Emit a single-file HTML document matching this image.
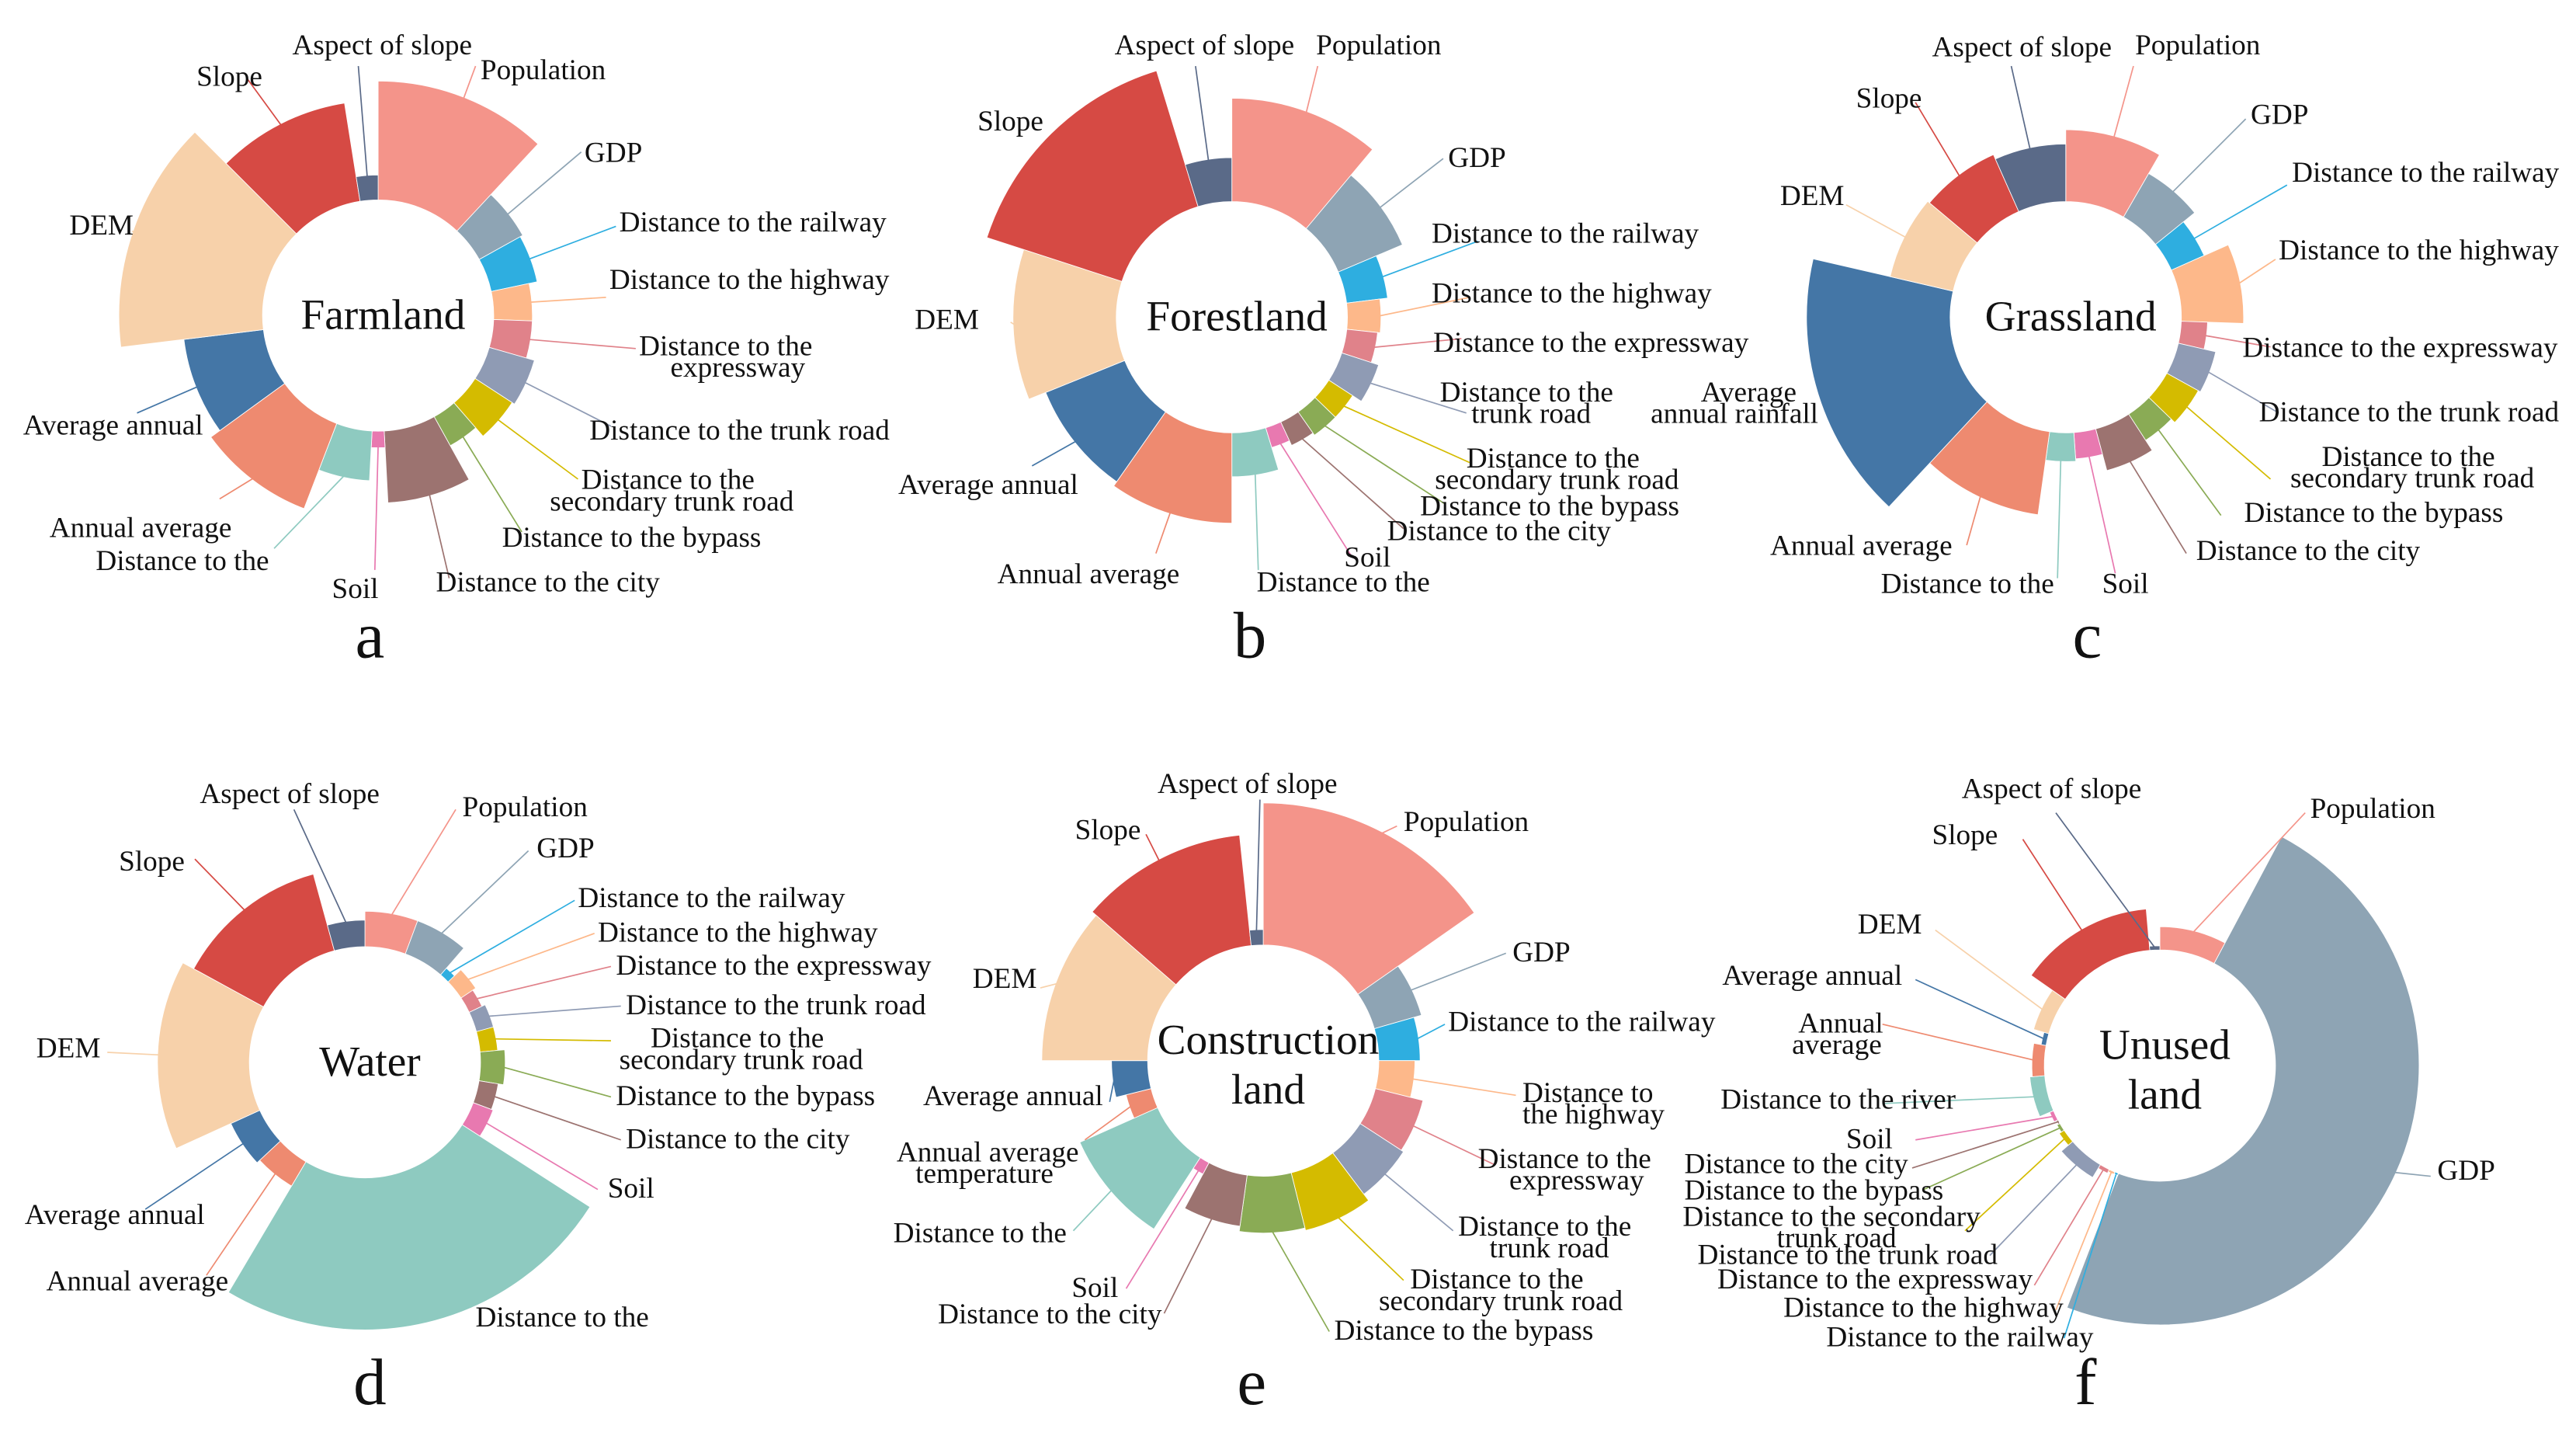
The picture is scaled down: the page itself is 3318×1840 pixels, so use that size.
<!DOCTYPE html>
<html><head><meta charset="utf-8"><title>Rose charts of land-use driving factors</title>
<style>
html,body{margin:0;padding:0;background:#fff;}
svg{display:block;}
text{font-family:"Liberation Serif","Times New Roman",serif;fill:#111;}
</style></head>
<body>
<svg id="fig" xmlns="http://www.w3.org/2000/svg" width="3318" height="1840" viewBox="0 0 1560 865" preserveAspectRatio="none" font-family="Liberation Serif, serif">
<rect x="0" y="0" width="1560" height="865" fill="#fff"/>
</svg>
<script>
const categories = ["Population","GDP","Distance to the railway","Distance to the highway","Distance to the expressway","Distance to the trunk road","Distance to the secondary trunk road","Distance to the bypass","Distance to the city","Soil","Distance to the river","Annual average temperature","Average annual rainfall","DEM","Slope","Aspect of slope"];
const colors = ["#f4948a","#8ea4b4","#2eaee0","#fdb88a","#e0828a","#8f9bb4","#d4bb00","#8aab55","#9c7370","#e879b0","#8ecac0","#ee8a70","#4476a6","#f7d1aa","#d64a44","#5a6a88"];
const farmlandValues = [43,18,17,14,14,17,16,12,26,6,18,33,29,52,36,9];
const forestlandValues = [40,27,16,13,12,15,11,11,10,8,17,35,33,40,55,17];
const grasslandValues = [30,21,15,26,11,16,15,13,18,11,12,35,60,27,26,24];
const waterValues = [20,20,5,10,8,10,10,14,11,12,86,16,18,52,45,15];
const constructionValues = [55,19,16,14,19,20,23,22,20,5,33,10,14,41,43,6];
const unusedValues = [28,173,2,3,5,18,7,4,2,5,18,15,6,19,50,5];

const NS="http://www.w3.org/2000/svg";
const FONT='"Liberation Serif","Times New Roman",serif';
const svg=document.getElementById('fig');
function mk(tag,attrs,parent){const e=document.createElementNS(NS,tag);for(const k in attrs)e.setAttribute(k,attrs[k]);(parent||svg).appendChild(e);return e;}
function pt(cx,cy,r,deg){const a=deg*Math.PI/180;return [cx+r*Math.sin(a),cy-r*Math.cos(a)];}

const charts=[
 {name:'farmland',values:farmlandValues,cx:229,cy:191,r0:70,rMax:157,title:['Farmland'],letter:'a',lx:224,ly:398,
  labels:[[15,'Aspect of slope',177,33,'start',217,40],[0,'Population',291,48,'start',288,40],[13,'DEM',42,142,'start',80,140],[14,'Slope',119,52,'start',150,48],
  [1,'GDP',354,98,'start',352,92],[2,'Distance to the railway',375,140,'start',373,137],[3,'Distance to the highway',369,175,'start',367,180],
  [4,'Distance to the|expressway',387,215,'start',385,211],[5,'Distance to the trunk road',357,266,'start',370,258],[6,'Distance to the|secondary trunk road',352,296,'start',350,290],
  [7,'Distance to the bypass',304,331,'start',316,322],[8,'Distance to the city',264,358,'start',272,350],[9,'Soil',201,362,'start',227,345],
  [10,'Distance to the',58,345,'start',166,332],[11,'Annual average',30,325,'start',133,302],[12,'Average annual',14,263,'start',83,250]]},
 {name:'forestland',values:forestlandValues,cx:746,cy:192,r0:70,rMax:156,title:['Forestland'],letter:'b',lx:757,ly:398,
  labels:[[15,'Aspect of slope',675,33,'start',724,40],[0,'Population',797,33,'start',798,40],[14,'Slope',592,79,'start',null,null],[1,'GDP',877,101,'start',874,96],
  [2,'Distance to the railway',867,147,'start',895,146],[3,'Distance to the highway',867,183,'start',890,180],[4,'Distance to the expressway',868,213,'start',885,205],
  [5,'Distance to the|trunk road',872,243,'start',888,250],[6,'Distance to the|secondary trunk road',888,283,'start',890,280],[7,'Distance to the bypass',860,312,'start',875,305],
  [8,'Distance to the city',840,327,'start',850,320],[9,'Soil',814,343,'start',818,336],[10,'Distance to the',761,358,'start',762,345],
  [11,'Annual average',604,353,'start',700,335],[12,'Average annual',544,299,'start',625,282],[13,'DEM',554,199,'start',612,195]]},
 {name:'grassland',values:grasslandValues,cx:1251,cy:192,r0:70,rMax:157,title:['Grassland'],letter:'c',lx:1264,ly:398,
  labels:[[15,'Aspect of slope',1170,34,'start',1218,40],[0,'Population',1293,33,'start',1292,40],[14,'Slope',1124,65,'start',1160,62],[1,'GDP',1363,75,'start',1360,72],
  [2,'Distance to the railway',1388,110,'start',1385,112],[3,'Distance to the highway',1380,157,'start',1378,157],[4,'Distance to the expressway',1358,216,'start',1375,210],
  [5,'Distance to the trunk road',1368,255,'start',1380,250],[6,'Distance to the|secondary trunk road',1406,282,'start',1375,290],[7,'Distance to the bypass',1359,316,'start',1345,312],
  [8,'Distance to the city',1330,339,'start',1324,335],[9,'Soil',1273,359,'start',1281,347],[10,'Distance to the',1139,359,'start',1246,350],
  [11,'Annual average',1072,336,'start',1191,330],[12,'Average|annual rainfall',1030,243,'start',1112,248],[13,'DEM',1078,124,'start',1118,124]]},
 {name:'water',values:waterValues,cx:221,cy:643,r0:70,rMax:162,title:['Water'],letter:'d',lx:224,ly:850,
  labels:[[15,'Aspect of slope',121,486,'start',178,490],[0,'Population',280,494,'start',276,490],[14,'Slope',72,527,'start',118,520],[1,'GDP',325,519,'start',320,515],
  [2,'Distance to the railway',350,549,'start',348,545],[3,'Distance to the highway',362,570,'start',360,565],[4,'Distance to the expressway',373,590,'start',370,585],
  [5,'Distance to the trunk road',379,614,'start',376,609],[6,'Distance to the|secondary trunk road',394,634,'start',370,630],[7,'Distance to the bypass',373,669,'start',370,664],
  [8,'Distance to the city',379,695,'start',376,690],[9,'Soil',368,725,'start',362,720],[10,'Distance to the',288,803,'start',265,797],
  [11,'Annual average',28,781,'start',125,772],[12,'Average annual',15,741,'start',88,732],[13,'DEM',22,640,'start',65,637]]},
 {name:'construction-land',values:constructionValues,cx:765,cy:642,r0:70,rMax:156,title:['Construction','land'],letter:'e',lx:758,ly:850,
  labels:[[15,'Aspect of slope',701,480,'start',763,484],[0,'Population',850,503,'start',846,500],[14,'Slope',651,508,'start',694,505],[1,'GDP',916,582,'start',912,577],
  [2,'Distance to the railway',877,624,'start',875,620],[3,'Distance to|the highway',922,667,'start',918,663],[4,'Distance to the|expressway',895,707,'start',905,705],
  [5,'Distance to the|trunk road',883,748,'start',880,745],[6,'Distance to the|secondary trunk road',854,780,'start',850,775],[7,'Distance to the bypass',808,811,'start',805,806],
  [8,'Distance to the city',568,801,'start',705,795],[9,'Soil',649,785,'start',682,780],[10,'Distance to the',541,752,'start',650,745],
  [11,'Annual average|temperature',543,703,'start',657,690],[12,'Average annual',559,669,'start',672,667],[13,'DEM',589,598,'start',630,598]]},
 {name:'unused-land',values:unusedValues,cx:1308,cy:645,r0:70,rMax:157,title:['Unused','land'],letter:'f',lx:1263,ly:850,
  labels:[[15,'Aspect of slope',1188,483,'start',1245,492],[0,'Population',1399,495,'start',1396,492],[14,'Slope',1170,511,'start',1225,508],[13,'DEM',1125,565,'start',1172,563],
  [12,'Average annual',1043,596,'start',1160,593],[11,'Annual|average',1089,625,'start',1140,620],[1,'GDP',1476,714,'start',1472,712],[10,'Distance to the river',1042,671,'start',1140,668],
  [9,'Soil',1118,695,'start',1160,690],[8,'Distance to the city',1020,710,'start',1158,707],[7,'Distance to the bypass',1020,726,'start',1165,720],
  [6,'Distance to the secondary|trunk road',1019,742,'start',1190,745],[5,'Distance to the trunk road',1028,765,'start',1205,760],[4,'Distance to the expressway',1040,780,'start',1232,778],
  [3,'Distance to the highway',1080,797,'start',1245,793],[2,'Distance to the railway',1106,815,'start',1250,810]]}
];

charts.forEach(ch=>{
  const g=mk('g',{});
  
  
  const total=ch.values.reduce((a,b)=>a+b,0);
  const vmax=Math.max(...ch.values);
  const rScale=v=>ch.r0+(ch.rMax-ch.r0)*v/vmax;
  let start=0; const mids=[],outs=[];
  ch.values.forEach((v,i)=>{
    const sweep=v/total*360, end=start+sweep, r=rScale(v);
    const a=pt(ch.cx,ch.cy,ch.r0,start), b=pt(ch.cx,ch.cy,r,start), c=pt(ch.cx,ch.cy,r,end), d=pt(ch.cx,ch.cy,ch.r0,end);
    const large=sweep>180?1:0;
    const p=mk('path',{d:`M${a[0]},${a[1]} L${b[0]},${b[1]} A${r},${r} 0 ${large} 1 ${c[0]},${c[1]} L${d[0]},${d[1]} A${ch.r0},${ch.r0} 0 ${large} 0 ${a[0]},${a[1]} Z`,fill:colors[i],stroke:'#fff','stroke-width':0.4},g);
    
    
    mids[i]=start+sweep/2; outs[i]=r; start=end;
  });
  ch.labels.forEach(L=>{
    const [ci,txt,x,y,anc,lx,ly]=L;
    if(lx!==null){
      const s=pt(ch.cx,ch.cy,outs[ci]-1,mids[ci]);
      const ln=mk('line',{x1:s[0],y1:s[1],x2:lx,y2:ly,stroke:colors[ci],'stroke-width':0.8},g);
      
      
    }
    const lines=txt.split('|');
    const t=mk('text',{x:x,y:y,'text-anchor':anc,'font-family':FONT,'font-size':17.5},g);
    
    
    lines.forEach((s,k)=>{const off=k===0?0:(lines[0].length-s.length)*3.8;const sp=mk('tspan',{x:x+off,dy:k===0?0:13},t);sp.textContent=s;});
  });
  const tt=mk('text',{x:ch.cx+3,y:ch.title.length===1?ch.cy+8:ch.cy-4,'text-anchor':'middle','font-family':FONT,'font-size':26},g);
  
  
  ch.title.forEach((s,k)=>{const sp=mk('tspan',{x:ch.cx+3,dy:k===0?0:30},tt);sp.textContent=s;});
  const lt=mk('text',{x:ch.lx,y:ch.ly,'text-anchor':'middle','font-family':FONT,'font-size':40},g);
  
  
  lt.textContent=ch.letter;
});
</script>
</body></html>
